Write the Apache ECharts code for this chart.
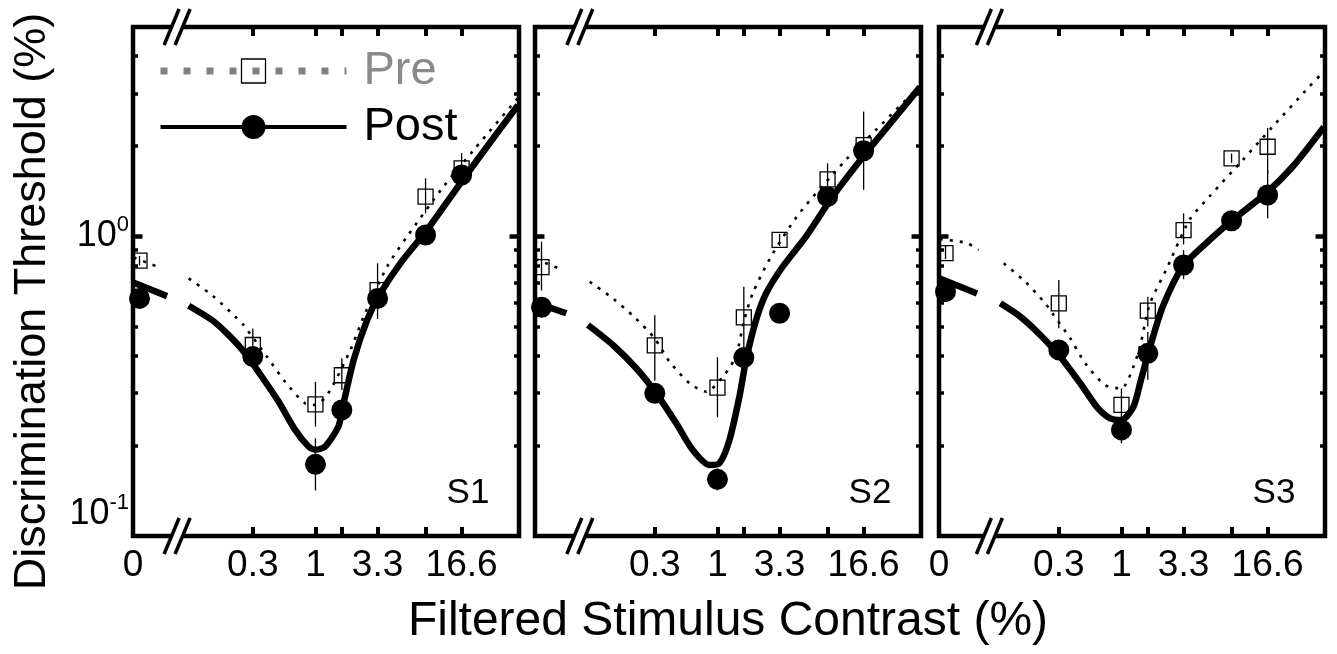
<!DOCTYPE html>
<html><head><meta charset="utf-8">
<script src="https://cdn.jsdelivr.net/npm/echarts@6/dist/echarts.min.js"></script>
<style>html,body{margin:0;padding:0;background:#fff}#c{width:1337px;height:654px}</style>
</head><body><div id="c"></div>
<script>
// ---------------- data ----------------
const contrasts = [0, 0.3, 1, 1.66, 3.3, 8.3, 16.6];
const xTickValues = [0.3, 1, 1.66, 3.3, 8.3, 16.6];
const xLabelValues = [0, 0.3, 1, 3.3, 16.6];
const yMajorTicks = [1];
const yMinorTicks = [0.2, 0.3, 0.4, 0.5, 0.6, 0.7, 0.8, 0.9, 2, 3, 4];
const yLabelValues = [0.1, 1];
const panelNames = ['S1', 'S2', 'S3'];
const legendNames = ['Pre', 'Post'];

// S1
const pre1    = [0.83, 0.434, 0.275, 0.344, 0.662, 1.357, 1.688];
const pre1Lo  = [0.80, 0.38, 0.232, 0.307, 0.53, 1.194, 1.50];
const pre1Hi  = [0.86, 0.493, 0.327, 0.392, 0.813, 1.563, 1.898];
const post1   = [0.621, 0.397, 0.1735, 0.2635, 0.621, 1.011, 1.603];
const post1Lo = [0.59, 0.38, 0.142, 0.25, 0.58, 0.97, 1.55];
const post1Hi = [0.65, 0.415, 0.212, 0.28, 0.66, 1.05, 1.66];
const fitPre1C  = [0.0305, 0.0524, 0.07, 0.0875, 0.1367, 0.214, 0.251, 0.393, 0.559, 0.82, 1.0, 1.28, 1.957, 2.526, 3.96, 5.81, 11.7, 20.9, 49];
const fitPre1V  = [0.85, 0.782, null, 0.724, 0.637, 0.540, 0.506, 0.397, 0.327, 0.277, 0.274, 0.2995, 0.418, 0.540, 0.792, 0.998, 1.465, 1.94, 2.90];
const fitPost1C = [0.0305, 0.0577, 0.07, 0.0875, 0.1367, 0.188, 0.2596, 0.357, 0.492, 0.677, 0.875, 1.0, 1.205, 1.555, 1.669, 2.085, 2.70, 3.48, 5.11, 8.53, 16.2, 27, 49];
const fitPost1V = [0.70, 0.632, null, 0.587, 0.526, 0.469, 0.407, 0.340, 0.281, 0.226, 0.199, 0.194, 0.199, 0.232, 0.2635, 0.387, 0.526, 0.645, 0.813, 1.05, 1.504, 1.992, 2.74];

// S2
const pre2    = [0.79, 0.433, 0.313, 0.537, 0.973, 1.551, 2.018];
const pre2Lo  = [0.66, 0.33, 0.249, 0.407, 0.93, 1.40, 1.95];
const pre2Hi  = [0.96, 0.546, 0.395, 0.679, 1.02, 1.753, 2.09];
const post2   = [0.58, 0.2995, 0.1546, 0.394, 0.554, 1.357, 1.932];
const post2Lo = [0.56, 0.28, 0.142, 0.37, 0.53, 1.31, 1.43];
const post2Hi = [0.60, 0.32, 0.168, 0.42, 0.58, 1.41, 2.61];
const fitPre2C  = [0.0305, 0.0514, 0.071, 0.0858, 0.134, 0.2034, 0.2985, 0.398, 0.585, 0.805, 1.143, 1.43, 1.66, 1.968, 2.80, 4.82, 11.8, 21, 49];
const fitPre2V  = [0.84, 0.772, null, 0.706, 0.621, 0.537, 0.457, 0.382, 0.3234, 0.303, 0.345, 0.40, 0.52, 0.645, 0.856, 1.194, 1.80, 2.265, 3.18];
const fitPost2C = [0.0305, 0.0548, 0.071, 0.083, 0.134, 0.210, 0.308, 0.453, 0.622, 0.858, 1.039, 1.259, 1.525, 1.734, 2.10, 2.546, 3.50, 5.48, 9.14, 17.3, 30.8, 49];
const fitPost2V = [0.60, 0.554, null, 0.506, 0.434, 0.363, 0.2995, 0.2377, 0.1937, 0.1726, 0.175, 0.209, 0.292, 0.387, 0.526, 0.645, 0.792, 0.998, 1.357, 1.894, 2.51, 3.15];

// S3
const pre3    = [0.88, 0.598, 0.274, 0.565, 1.05, 1.823, 1.992];
const pre3Lo  = [0.84, 0.494, 0.25, 0.50, 0.94, 1.76, 1.62];
const pre3Hi  = [0.93, 0.715, 0.311, 0.629, 1.194, 1.89, 2.30];
const post3   = [0.654, 0.418, 0.226, 0.407, 0.803, 1.128, 1.375];
const post3Lo = [0.63, 0.40, 0.204, 0.332, 0.72, 1.08, 1.149];
const post3Hi = [0.68, 0.44, 0.250, 0.48, 0.90, 1.18, 1.666];
const fitPre3C  = [0.0305, 0.0514, 0.0643, 0.079, 0.104, 0.1576, 0.231, 0.271, 0.3736, 0.4983, 0.731, 1.0, 1.259, 1.45, 1.66, 1.824, 2.357, 3.69, 5.41, 10.3, 18.2, 36.9, 49];
const fitPre3V  = [0.98, 0.95, 0.901, null, 0.813, 0.706, 0.598, 0.547, 0.457, 0.377, 0.319, 0.311, 0.367, 0.44, 0.565, 0.629, 0.772, 1.134, 1.357, 1.80, 2.32, 3.16, 3.55];
const fitPost3C = [0.0305, 0.0623, 0.079, 0.0975, 0.143, 0.210, 0.308, 0.453, 0.622, 0.805, 1.0, 1.259, 1.45, 1.71, 2.21, 3.24, 5.08, 8.46, 16.1, 26.8, 49];
const fitPost3V = [0.724, 0.645, null, 0.598, 0.540, 0.469, 0.397, 0.3234, 0.270, 0.247, 0.244, 0.270, 0.33, 0.42, 0.582, 0.792, 0.948, 1.134, 1.393, 1.708, 2.32];

// ---------------- layout / style ----------------
const FONT = '"Liberation Sans", Arial, Helvetica, sans-serif';
const X_MIN = 0.03, X_MAX = 50, Y_MIN = 0.1, Y_MAX = 5;
const ZERO_AT = 0.034;               // where contrast 0 is plotted (broken axis)
const BREAK_AT = [0.07, 0.071, 0.079];
const GRID_LEFT = [133, 535, 939], GRID_W = 386, GRID_TOP = 27, GRID_H = 509;

const panels = [
  {pre: pre1, preLo: pre1Lo, preHi: pre1Hi, post: post1, postLo: post1Lo, postHi: post1Hi, fpC: fitPre1C, fpV: fitPre1V, fqC: fitPost1C, fqV: fitPost1V, zeroLabel: true},
  {pre: pre2, preLo: pre2Lo, preHi: pre2Hi, post: post2, postLo: post2Lo, postHi: post2Hi, fpC: fitPre2C, fpV: fitPre2V, fqC: fitPost2C, fqV: fitPost2V, zeroLabel: false},
  {pre: pre3, preLo: pre3Lo, preHi: pre3Hi, post: post3, postLo: post3Lo, postHi: post3Hi, fpC: fitPre3C, fpV: fitPre3V, fqC: fitPost3C, fqV: fitPost3V, zeroLabel: true}
];

const plotX = c => (c === 0 ? ZERO_AT : c);
function fmtX(v) {
  if (v < 0.1) return '0';
  return String(Number(Number(v).toPrecision(3)));
}
function renderErr(params, api) {
  const x = api.value(0), lo = api.value(1), hi = api.value(2);
  const p1 = api.coord([x, lo]), p2 = api.coord([x, hi]);
  return {type: 'line', shape: {x1: p1[0], y1: p1[1], x2: p2[0], y2: p2[1]},
          style: {stroke: '#000', lineWidth: 1.3}};
}

const grids = [], xAxes = [], yAxes = [], series = [];
panels.forEach((p, i) => {
  grids.push({left: GRID_LEFT[i], top: GRID_TOP, width: GRID_W, height: GRID_H,
              show: true, borderColor: '#000', borderWidth: 4.5, backgroundColor: 'transparent'});
  const xBase = {gridIndex: i, type: 'log', logBase: 10, min: X_MIN, max: X_MAX,
    axisLine: {show: false}, splitLine: {show: false}, minorTick: {show: false},
    axisTick: {show: true, inside: true, length: 9, customValues: xTickValues, lineStyle: {color: '#000', width: 4}}};
  const labs = xLabelValues.filter(v => v !== 0 || p.zeroLabel).map(v => v === 0 ? X_MIN * 1.002 : v);
  xAxes.push(Object.assign({}, xBase, {position: 'bottom',
    axisLabel: {show: true, customValues: labs, formatter: fmtX, fontSize: 37, color: '#000', fontFamily: FONT, margin: 11},
    name: i === 1 ? 'Filtered Stimulus Contrast (%)' : '', nameLocation: 'middle', nameGap: 62,
    nameTextStyle: {fontSize: 48, color: '#000', fontFamily: FONT}}));
  xAxes.push(Object.assign({}, xBase, {position: 'top', axisLabel: {show: false}}));

  const yBase = {gridIndex: i, type: 'log', logBase: 10, min: Y_MIN, max: Y_MAX, offset: 0,
    axisLine: {show: false}, splitLine: {show: false}, minorTick: {show: false}};
  const major = {show: true, inside: true, length: 9.5, customValues: yMajorTicks, lineStyle: {color: '#000', width: 4.5}};
  const minor = {show: true, inside: true, length: 5, customValues: yMinorTicks, lineStyle: {color: '#000', width: 3.5}};
  yAxes.push(Object.assign({}, yBase, {position: 'left', axisTick: major,
    axisLabel: i === 0 ? {show: true, customValues: yLabelValues, margin: 4, verticalAlignMinLabel: 'bottom',
      formatter: v => '{b|10}{s|' + Math.round(Math.log10(v)) + '}',
      rich: {b: {fontSize: 36, fontFamily: FONT, color: '#000', lineHeight: 44},
             s: {fontSize: 22, fontFamily: FONT, color: '#000', lineHeight: 22, verticalAlign: 'top'}}} : {show: false},
    name: i === 0 ? 'Discrimination Threshold (%)' : '', nameLocation: 'middle', nameGap: 78,
    nameTextStyle: {fontSize: 45, color: '#000', fontFamily: FONT, padding: [0, 40, 0, 0]}}));
  yAxes.push(Object.assign({}, yBase, {position: 'left', axisTick: minor, axisLabel: {show: false}}));
  yAxes.push(Object.assign({}, yBase, {position: 'right', axisTick: major, axisLabel: {show: false}}));
  yAxes.push(Object.assign({}, yBase, {position: 'right', axisTick: minor, axisLabel: {show: false}}));

  const xi = 2 * i, yi = 4 * i;
  series.push({type: 'line', name: 'Pre fit', xAxisIndex: xi, yAxisIndex: yi, silent: true,
    data: p.fpC.map((c, k) => [c, p.fpV[k]]), symbol: 'none', smooth: 0.25, connectNulls: false,
    lineStyle: {color: '#000', width: 2.6, type: [3, 7]}, z: 2});
  series.push({type: 'line', name: 'Post fit', xAxisIndex: xi, yAxisIndex: yi, silent: true,
    data: p.fqC.map((c, k) => [c, p.fqV[k]]), symbol: 'none', smooth: 0.25, connectNulls: false,
    lineStyle: {color: '#000', width: 6.5, type: 'solid'}, z: 3});
  series.push({type: 'line', name: legendNames[0], xAxisIndex: xi, yAxisIndex: yi,
    data: contrasts.map((c, k) => [plotX(c), p.pre[k]]), symbol: 'rect', symbolSize: 15,
    lineStyle: {width: 0, opacity: 0}, itemStyle: {color: 'rgba(0,0,0,0)', borderColor: '#000', borderWidth: 1.3}, z: 4});
  series.push({type: 'line', name: legendNames[1], xAxisIndex: xi, yAxisIndex: yi,
    data: contrasts.map((c, k) => [plotX(c), p.post[k]]), symbol: 'circle', symbolSize: 21,
    lineStyle: {width: 0, opacity: 0}, itemStyle: {color: '#000'}, z: 5});
  const err = [];
  contrasts.forEach((c, k) => { err.push([plotX(c), p.preLo[k], p.preHi[k]]); err.push([plotX(c), p.postLo[k], p.postHi[k]]); });
  series.push({type: 'custom', name: 'err', xAxisIndex: xi, yAxisIndex: yi, silent: true,
    data: err, encode: {x: 0, y: [1, 2]}, renderItem: renderErr, z: 6});
});

const chart = echarts.init(document.getElementById('c'), null, {renderer: 'canvas'});
chart.setOption({
  animation: false,
  backgroundColor: '#fff',
  textStyle: {fontFamily: FONT},
  legend: {
    left: 152, top: 41, orient: 'vertical', itemWidth: 186, itemHeight: 30, itemGap: 6,
    selectedMode: false,
    textStyle: {fontSize: 47, fontFamily: FONT, lineHeight: 50, padding: [0, 0, 0, 12]},
    data: [
      {name: legendNames[0], lineStyle: {color: '#808080', width: 7, type: [7, 16], opacity: 1, cap: 'butt'},
       itemStyle: {color: 'rgba(0,0,0,0)', borderColor: '#000', borderWidth: 1.3}, textStyle: {color: '#8a8a8a'}},
      {name: legendNames[1], lineStyle: {color: '#000', width: 4, type: 'solid', opacity: 1},
       itemStyle: {color: '#000'}, textStyle: {color: '#000'}}
    ]
  },
  grid: grids, xAxis: xAxes, yAxis: yAxes, series: series
});

// axis-break marks and panel labels
const g = [];
panels.forEach((p, i) => {
  const bx = chart.convertToPixel({xAxisIndex: 2 * i}, BREAK_AT[i]);
  const h = 18, dx = 7.5, sep = 11;
  [GRID_TOP, GRID_TOP + GRID_H].forEach(yy => {
    const xl = y => bx - sep / 2 - dx * (y - yy) / h;
    const xr = y => bx + sep / 2 - dx * (y - yy) / h;
    g.push({type: 'polygon', shape: {points: [[xl(yy - 4), yy - 4], [xr(yy - 4), yy - 4], [xr(yy + 4), yy + 4], [xl(yy + 4), yy + 4]]},
            style: {fill: '#fff'}, z: 100});
    g.push({type: 'line', shape: {x1: xl(yy + h), y1: yy + h, x2: xl(yy - h), y2: yy - h}, style: {stroke: '#000', lineWidth: 3.5}, z: 101});
    g.push({type: 'line', shape: {x1: xr(yy + h), y1: yy + h, x2: xr(yy - h), y2: yy - h}, style: {stroke: '#000', lineWidth: 3.5}, z: 101});
  });
  g.push({type: 'text', x: GRID_LEFT[i] + GRID_W - 51, y: 493, z: 100,
          style: {text: panelNames[i], font: '35px ' + FONT, fill: '#000', align: 'center', verticalAlign: 'middle'}});
});
chart.setOption({graphic: g});
</script>
</body></html>
